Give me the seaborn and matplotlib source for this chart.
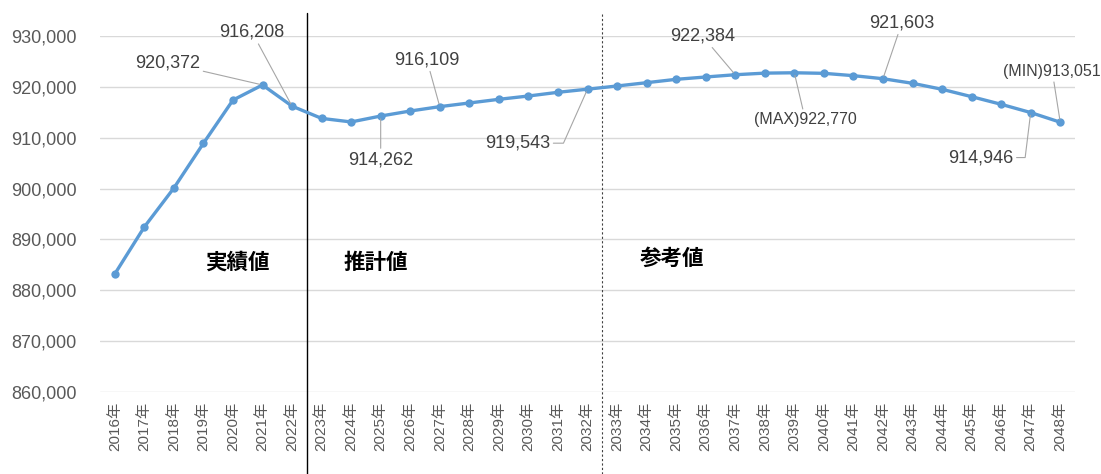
import numpy as np
import pandas as pd
import matplotlib
matplotlib.use("Agg")
import matplotlib.pyplot as plt
import seaborn as sns
from matplotlib.ticker import FuncFormatter

# ============================================================
# DATA
# ============================================================
YEARS = list(range(2016, 2049))
POPULATION = [
    883200, 892450, 900100, 908900, 917400, 920372, 916208,            # 実績値
    913800, 913100, 914262, 915250, 916109, 916830, 917550, 918200,
    918930, 919543,                                                    # 推計値
    920170, 920820, 921480, 921940, 922384, 922700, 922770, 922660,
    922200, 921603, 920700, 919520, 918070, 916570, 914946, 913051,    # 参考値
]
YTICKS = [860000, 870000, 880000, 890000, 900000, 910000, 920000, 930000]
XLABELS = [f"{y}年" for y in YEARS]

# labelled points: year -> label text
LABEL_YEARS = [2021, 2022, 2025, 2027, 2032, 2037, 2039, 2042, 2047, 2048]
LABEL_TEXTS = ["920,372", "916,208", "914,262", "916,109", "919,543",
               "922,384", "(MAX)922,770", "921,603", "914,946", "(MIN)913,051"]

SECTION_NAMES = ["実績値", "推計値", "参考値"]

# ============================================================
# LAYOUT (pixel offsets of label centres from their points)
# ============================================================
LABEL_OFFSETS = [(-95, 22), (-40, 74), (0, -44), (-13, 47), (-70, -54),
                 (-33, 39), (11, -47), (19, 56), (-50, -45), (-8, 51)]
LABEL_SIZES = [13, 13, 13, 13, 13, 13, 11.5, 13, 13, 11.5]
# leader lines with a short horizontal stub: angle of the sloped part
ELBOW_ANGLES = {2032: 246, 2047: 263}
SECTION_POS = [(2020.15, 885500), (2024.85, 885500), (2034.85, 886300)]

LINE_COLOR = "#5B9BD5"
TEXT_COLOR = "#595959"

df = pd.DataFrame({"year": YEARS, "population": POPULATION})

sns.set_theme(style="white")
plt.rcParams["font.family"] = ["Liberation Sans", "Noto Sans CJK JP"]

fig = plt.figure(figsize=(11.01, 4.74), dpi=100)
ax = fig.add_axes([100 / 1101, 82 / 474, 975 / 1101, 356 / 474])

sns.lineplot(data=df, x="year", y="population", ax=ax, color=LINE_COLOR,
             linewidth=2.4, marker="o", markersize=6, markeredgewidth=0,
             zorder=3)

ax.set_xlim(YEARS[0] - 0.5, YEARS[-1] + 0.5)
ax.set_ylim(YTICKS[0], YTICKS[-1])
ax.set_yticks(YTICKS)
ax.yaxis.set_major_formatter(FuncFormatter(lambda v, p: f"{int(v):,}"))
ax.set_xticks(YEARS)
ax.set_xticklabels(XLABELS, rotation=90, fontsize=11, color=TEXT_COLOR)
ax.tick_params(axis="y", labelsize=13, labelcolor=TEXT_COLOR, length=0, pad=17)
ax.tick_params(axis="x", length=0, pad=7)
ax.set_xlabel("")
ax.set_ylabel("")
ax.grid(axis="y", color="#D9D9D9", linewidth=1)
ax.grid(axis="x", visible=False)
for s in ax.spines.values():
    s.set_visible(False)

# section separators
ax.axvline(2022.5, ymin=-0.23, ymax=1.065, color="black", linewidth=1,
           clip_on=False, zorder=2)
ax.axvline(2032.5, ymin=-0.23, ymax=1.065, color="#404040", linewidth=0.8,
           linestyle=(0, (2, 2)), clip_on=False, zorder=2)

for (sx, sy), name in zip(SECTION_POS, SECTION_NAMES):
    ax.text(sx, sy, name, fontsize=15.5, fontweight="bold", color="black",
            ha="center", va="center", family=["Noto Sans CJK JP"])

# data labels with leader lines
for yr, txt, (dx, dy), fs in zip(LABEL_YEARS, LABEL_TEXTS, LABEL_OFFSETS, LABEL_SIZES):
    val = POPULATION[YEARS.index(yr)]
    arrow = dict(arrowstyle="-", color="#A6A6A6", linewidth=0.8,
                 shrinkA=0, shrinkB=2)
    if yr in ELBOW_ANGLES:
        arrow["relpos"] = (1.0, 0.5)
        arrow["connectionstyle"] = f"angle,angleA=0,angleB={ELBOW_ANGLES[yr]},rad=0"
    ax.annotate(txt, xy=(yr, val), xytext=(dx, dy), textcoords="offset pixels",
                ha="center", va="center", fontsize=fs, color="#404040",
                arrowprops=arrow, annotation_clip=False, zorder=4)

fig.savefig("out.png", dpi=100)
